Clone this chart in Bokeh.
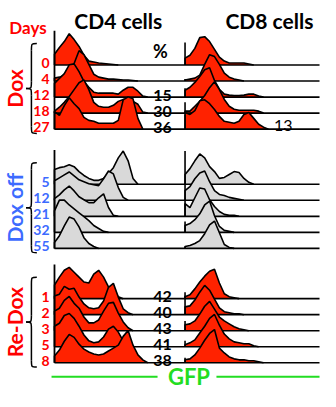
import math
from bokeh.plotting import figure
from bokeh.models import Range1d
from bokeh.embed import file_html
from bokeh.resources import INLINE
from bokeh.core.properties import value

# ---------------- data ----------------
gfp = [0, 5, 10, 15, 20, 25, 30, 35, 40, 45, 50, 55, 60, 65, 70, 75, 80, 85, 90, 95]

dox_days = ["0", "4", "12", "18", "27"]
doxoff_days = ["5", "12", "21", "32", "55"]
redox_days = ["1", "2", "3", "5", "8"]

# CD4, Dox
dox_cd4_d0 = [11, 18, 24, 32, 26, 19, 10, 4, 3, 2, 1.5, 1, 0.5, 0, 0, 0, 0, 0, 0, 0]
dox_cd4_d4 = [3, 4, 6, 10, 18, 31, 27, 17, 7, 4, 3, 2, 2, 1.5, 1, 1, 0.5, 0, 0, 0]
dox_cd4_d12 = [14, 19, 24, 33, 34, 26, 16, 10, 5, 4, 4, 4, 4, 3, 7, 10, 10, 6, 1, 0]
dox_cd4_d18 = [2, 6, 11, 17, 24, 31, 34, 24, 11, 7, 6, 6, 8, 12, 14, 14, 12, 9, 1, 0]
dox_cd4_d27 = [18, 14, 24, 32, 26, 21, 12, 9, 8, 6, 6, 6, 6, 9, 30, 33, 31, 11, 0, 0]
# CD8, Dox
dox_cd8_first = [23, 2, 9, 11, 15]
dox_cd8_d0 = [7, 10, 17, 28, 29, 24, 16, 8, 4, 2, 2, 2, 2, 1, 0, 0, 0, 0, 0, 0]
dox_cd8_d4 = [1, 2, 3, 6, 17, 27, 25, 17, 8, 4, 2, 1, 0, 0, 0, 0, 0, 0, 0, 0]
dox_cd8_d12 = [7, 10, 15, 21, 28, 30, 17, 8, 3, 2, 1.5, 1.5, 2, 3, 3, 1, 0, 0, 0, 0]
dox_cd8_d18 = [2, 2, 7, 12, 18, 26, 32, 24, 14, 7, 4, 3, 3, 3, 3, 2, 0, 0, 0, 0]
dox_cd8_d27 = [17, 15, 19, 29, 30, 26, 20, 13, 8, 7, 6, 8, 15, 17, 11, 5, 2, 0, 0, 0]

# CD4, Dox off
doxoff_cd4_d5 = [15, 17, 18, 20, 18, 13, 9, 6, 4, 4, 6, 11, 17, 27, 34, 24, 6, 0, 0, 0]
doxoff_cd4_d12 = [20, 23, 26, 29, 25, 21, 19, 17, 16, 15, 22, 30, 27, 13, 3, 0, 0, 0, 0, 0]
doxoff_cd4_d21 = [18, 22, 27, 31, 26, 20, 17, 14, 14, 19, 23, 9, 1, 0, 0, 0, 0, 0, 0, 0]
doxoff_cd4_d32 = [22, 33, 33, 28, 24, 20, 16, 12, 7, 4, 1, 0, 0, 0, 0, 0, 0, 0, 0, 0]
doxoff_cd4_d55 = [6, 13, 23, 32, 30, 22, 11, 5, 2, 0, 0, 0, 0, 0, 0, 0, 0, 0, 0, 0]
# CD8, Dox off
doxoff_cd8_first = [34, 16, 17, 11, 2]
doxoff_cd8_d5 = [10, 16, 24, 31, 27, 18, 13, 6, 7, 10, 13, 12, 6, 2, 0, 0, 0, 0, 0, 0]
doxoff_cd8_d12 = [10, 14, 22, 28, 30, 19, 10, 6, 5, 3, 2, 1, 0, 0, 0, 0, 0, 0, 0, 0]
doxoff_cd8_d21 = [13, 9, 19, 29, 28, 17, 10, 5, 2, 1, 1, 0, 0, 0, 0, 0, 0, 0, 0, 0]
doxoff_cd8_d32 = [7, 9, 13, 19, 28, 32, 17, 6, 2, 1, 0, 0, 0, 0, 0, 0, 0, 0, 0, 0]
doxoff_cd8_d55 = [2, 3, 5, 8, 15, 24, 28, 16, 4, 1, 0, 0, 0, 0, 0, 0, 0, 0, 0, 0]

# CD4, Re-Dox
redox_cd4_d1 = [14, 22, 29, 32, 27, 22, 17, 16, 25, 29, 22, 12, 6, 2, 0, 0, 0, 0, 0, 0]
redox_cd4_d2 = [19, 21, 29, 26, 27, 18, 11, 7, 6, 7, 14, 28, 32, 18, 6, 2, 0, 0, 0, 0]
redox_cd4_d3 = [20, 23, 31, 35, 28, 23, 14, 8, 8, 11, 20, 28, 29, 18, 9, 3, 0, 0, 0, 0]
redox_cd4_d5 = [21, 24, 32, 34, 29, 21, 12, 6, 4, 5, 10, 18, 21, 15, 6, 2, 0, 0, 0, 0]
redox_cd4_d8 = [7, 13, 22, 29, 26, 19, 14, 11, 9, 8, 9, 12, 15, 18, 27, 33, 18, 8, 3, 0]
# CD8, Re-Dox
redox_cd8_first = [3, 23, 10, 6, 5]
redox_cd8_d1 = [2, 4, 10, 17, 23, 28, 30, 16, 5, 2, 1, 0, 0, 0, 0, 0, 0, 0, 0, 0]
redox_cd8_d2 = [8, 9, 15, 23, 30, 25, 16, 7, 3, 2, 1, 1, 0, 0, 0, 0, 0, 0, 0, 0]
redox_cd8_d3 = [6, 7, 10, 17, 25, 30, 22, 14, 10, 7, 4, 2, 1, 0, 0, 0, 0, 0, 0, 0]
redox_cd8_d5 = [2, 4, 7, 14, 21, 29, 33, 22, 13, 8, 5, 4, 3, 3, 1, 0, 0, 0, 0, 0]
redox_cd8_d8 = [3, 4, 8, 15, 23, 30, 34, 15, 10, 6, 4, 3, 3, 2, 2, 1, 0, 0, 0, 0]

dox_cd4_pct = ["", "", "15", "30", "36"]
dox_cd8_pct = ["", "", "", "", "13"]
redox_cd4_pct = ["42", "40", "43", "41", "38"]

# ---------------- style / layout ----------------
RED_FILL = "#ff2200"
GREY_FILL = "#d9d9d9"
RED_TXT = "#ff0000"
BLUE_TXT = "#3d6bff"
GREEN = "#22dd22"
FONT = value("Lato")

CD4_X0, CD8_X0, LINE_END = 63, 196, 333
ROW_STEP = 16.4
AXIS_H = 35

groups = [
    dict(name="Dox", top=75, tc=RED_TXT, fill=RED_FILL, days=dox_days,
         cd4=[dox_cd4_d0, dox_cd4_d4, dox_cd4_d12, dox_cd4_d18, dox_cd4_d27],
         cd8=[dox_cd8_d0, dox_cd8_d4, dox_cd8_d12, dox_cd8_d18, dox_cd8_d27],
         first=dox_cd8_first, pct4=dox_cd4_pct, pct8=dox_cd8_pct),
    dict(name="Dox off", top=197, tc=BLUE_TXT, fill=GREY_FILL, days=doxoff_days,
         cd4=[doxoff_cd4_d5, doxoff_cd4_d12, doxoff_cd4_d21, doxoff_cd4_d32, doxoff_cd4_d55],
         cd8=[doxoff_cd8_d5, doxoff_cd8_d12, doxoff_cd8_d21, doxoff_cd8_d32, doxoff_cd8_d55],
         first=doxoff_cd8_first, pct4=None, pct8=None),
    dict(name="Re-Dox", top=314, tc=RED_TXT, fill=RED_FILL, days=redox_days,
         cd4=[redox_cd4_d1, redox_cd4_d2, redox_cd4_d3, redox_cd4_d5, redox_cd4_d8],
         cd8=[redox_cd8_d1, redox_cd8_d2, redox_cd8_d3, redox_cd8_d5, redox_cd8_d8],
         first=redox_cd8_first, pct4=redox_cd4_pct, pct8=None),
]

p = figure(width=320, height=391, output_backend="svg", toolbar_location=None,
           x_range=Range1d(8, 334), y_range=Range1d(-409, -9),
           x_axis_location=None, y_axis_location=None, min_border=0)
p.grid.visible = False
p.outline_line_color = None
p.background_fill_color = "white"
p.border_fill_color = "white"


def draw_hist(x0, base, heights, fill):
    last = max(i for i, h in enumerate(heights) if h > 0)
    n = min(last + 2, len(heights))
    xs = [x0] + [x0 + g for g in gfp[:n]] + [x0 + gfp[n - 1]]
    ys = [base] + [base + h for h in heights[:n]] + [base]
    p.patch(xs, ys, fill_color=fill, line_color=None)
    p.line(xs, ys, line_color="black", line_width=1.6)


def txt(x, y, s, color="black", size="14px", bold=True, align="center",
        baseline="alphabetic", angle=0.0):
    p.text(x=x, y=y, text=s, text_color=color, text_font=FONT,
           text_font_size=size, text_font_style="bold" if bold else "normal",
           text_align=align, text_baseline=baseline, angle=angle)


def brace(xr, xl, top, bottom):
    mid = (top + bottom) / 2
    xm = (xr + xl) / 2
    r = 7
    p.bezier(x0=[xr, xm, xr, xm], y0=[top, mid + r, bottom, mid - r],
             x1=[xm, xl, xm, xl], y1=[top - r, mid, bottom + r, mid],
             cx0=[xm, xm, xm, xm], cy0=[top, mid, bottom, mid],
             cx1=[xm, xm, xm, xm], cy1=[top, mid, bottom, mid],
             line_color="black", line_width=1.5)
    p.segment(x0=[xm, xm], y0=[top - r, mid - r], x1=[xm, xm], y1=[mid + r, bottom + r],
              line_color="black", line_width=1.5)


for g in groups:
    bases = [-(g["top"] + i * ROW_STEP) for i in range(5)]
    for i in range(5):
        b = bases[i]
        draw_hist(CD4_X0, b, g["cd4"][i], g["fill"])
        draw_hist(CD8_X0, b, g["cd8"][i], g["fill"])
        p.line([CD4_X0, LINE_END], [b, b], line_color="black", line_width=1.6)
        p.segment(x0=[CD8_X0], y0=[b], x1=[CD8_X0], y1=[b + g["first"][i]],
                  line_color="black", line_width=1.6)
    # CD4 axis
    p.segment(x0=[CD4_X0], y0=[bases[-1]], x1=[CD4_X0], y1=[bases[0] + AXIS_H],
              line_color="black", line_width=1.8)
    # day labels
    txt([58] * 5, [b + 2 for b in bases], g["days"], color=g["tc"], size="14px", align="right")
    # group label and brace
    gc = -(g["top"] + 24)
    txt([22], [gc], [g["name"]], color=g["tc"], size="21px", baseline="middle",
        angle=math.pi / 2)
    brace(45, 34, -(g["top"] - 22), -(g["top"] + 70))
    if g["pct4"]:
        txt([173] * 5, [b + 2 for b in bases], g["pct4"], size="16px")
    if g["pct8"]:
        txt([296] * 5, [b + 3.5 for b in bases], g["pct8"], size="16px", bold=False)

# headers
txt([128], [-29], ["CD4 cells"], size="21px")
txt([282], [-29], ["CD8 cells"], size="21px")
txt([36], [-37], ["Days"], color=RED_TXT, size="17px")
txt([171], [-61], ["%"], size="18px")

# GFP axis label
p.segment(x0=[60, 228], y0=[-394, -394], x1=[168, 333], y1=[-394, -394],
          line_color=GREEN, line_width=2)
txt([200], [-394], ["GFP"], color=GREEN, size="22px", baseline="middle")

open("out.html", "w").write(file_html(p, INLINE))
